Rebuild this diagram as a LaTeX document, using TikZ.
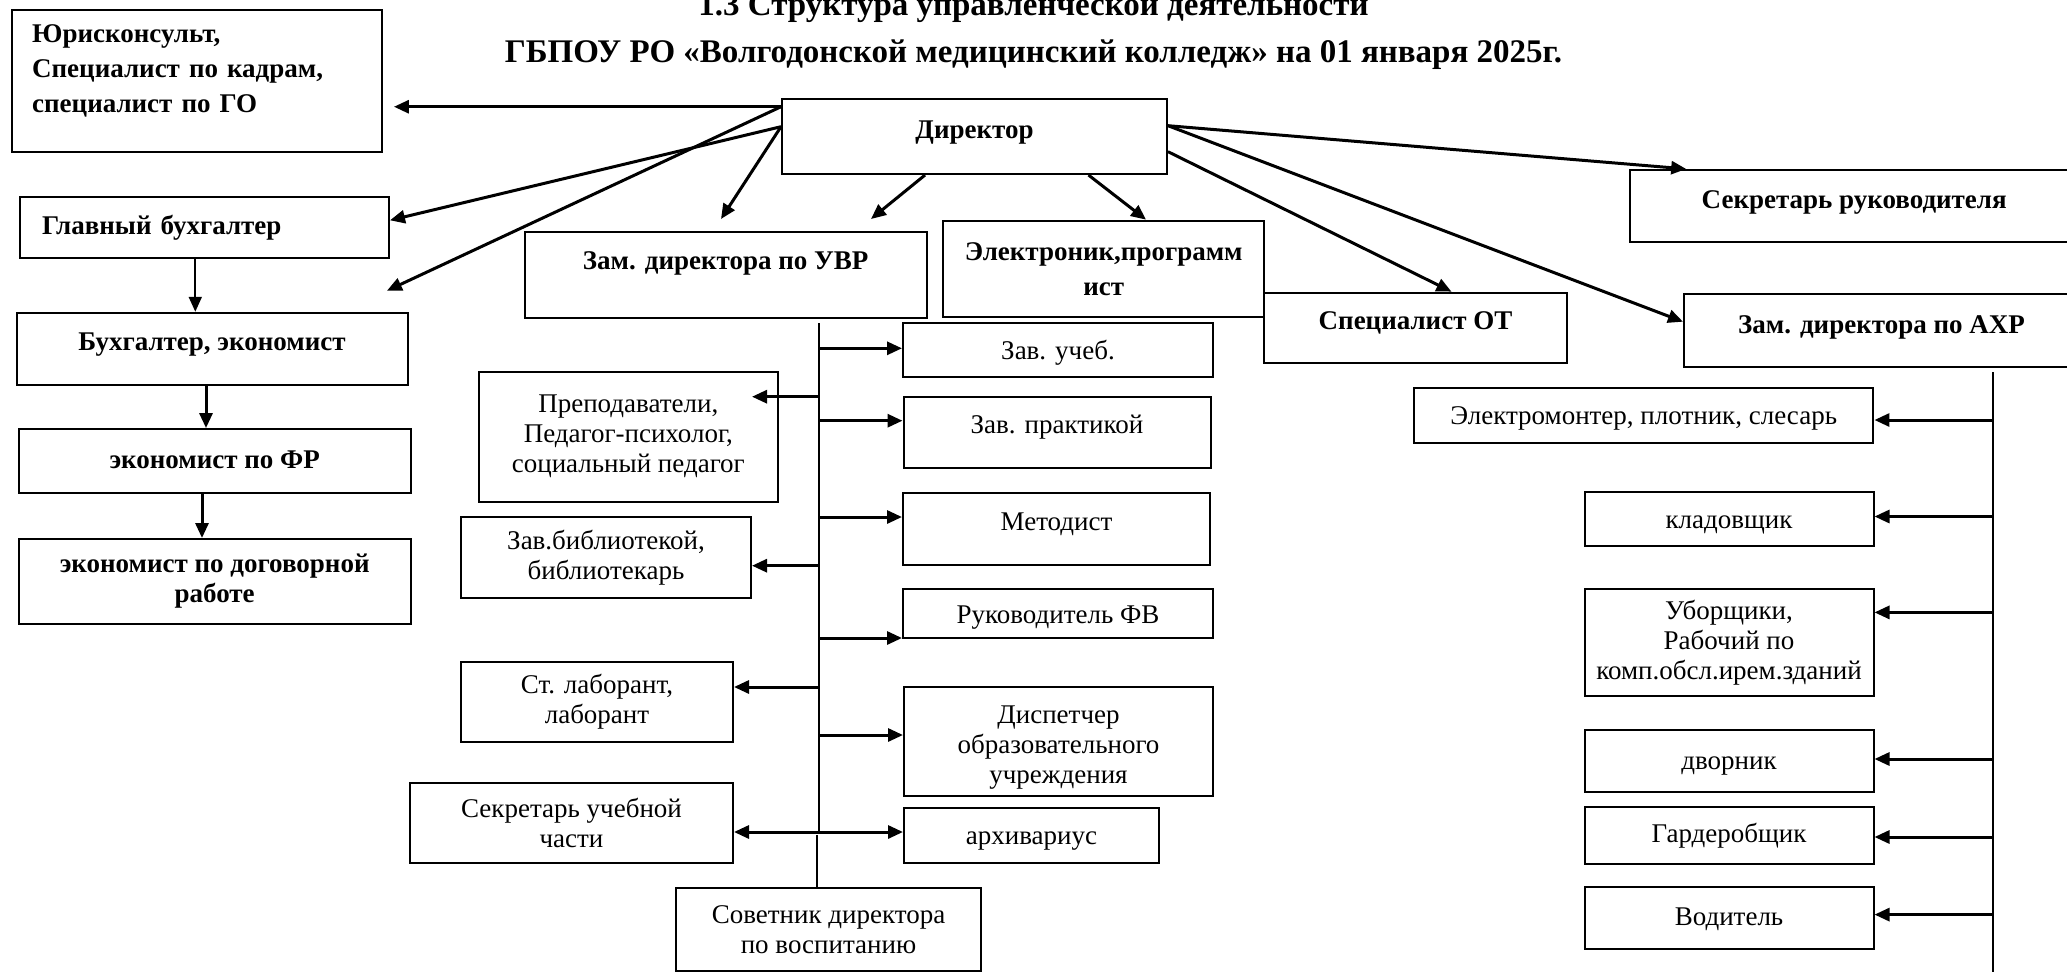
\documentclass[tikz,border=0pt]{standalone}
\usepackage{fontspec}
\setmainfont{Liberation Serif}
\usetikzlibrary{arrows.meta}
\tikzset{box/.style 2 args = {draw, line width = 2pt, inner sep = 0, align = center, minimum width = #1, minimum height = #2, font = \fontsize{27}{30}\selectfont}}
\tikzset{bbox/.style 2 args = {box = {#1}{#2}, font = \bfseries\fontsize{27}{30}\selectfont}}
\tikzset{lift/.style = {text height = 19pt, text depth = #1}}
\tikzset{arr/.style = {line width = 3pt, -{Triangle[length = 15pt, width = 13pt]}}}
\tikzset{bus/.style = {line width = 2pt}}

\begin{document}
\begin{tikzpicture}[x = 1pt, y = -1pt]
      \path[fill = white, use as bounding box] (0, 0) rectangle (2067, 972);

      \node [anchor = base, font = \bfseries\fontsize{33}{38}\selectfont] (title1) at (1033.5, 15) {1.3 Структура управленческой деятельности};
      \node [anchor = base, font = \bfseries\fontsize{33}{38}\selectfont] (title2) at (1033.5, 62) {ГБПОУ РО «Волгодонской медицинский колледж» на 01 января 2025г.};

      \node [bbox = {369.5pt}{142.5pt}, text width = 330pt, align = left, text depth = 96pt, font = \bfseries\fontsize{27}{35}\selectfont] (jur) at (197.2, 81.2) {Юрисконсульт,\\ Специалист по кадрам,\\ специалист по ГО};
      \node [bbox = {385pt}{74.7pt}, lift = 16pt] (dir) at (974.5, 136.7) {Директор};
      \node [bbox = {369.4pt}{61.3pt}, text width = 324.6pt, align = left] (glbuh) at (204.3, 227.3) {Главный бухгалтер};
      \node [bbox = {391pt}{72.3pt}, lift = 16pt] (buh) at (212, 348.9) {Бухгалтер, экономист};
      \node [bbox = {392pt}{63.7pt}, lift = 3pt] (ekfr) at (214.7, 460.9) {экономист по ФР};
      \node [bbox = {392pt}{85pt}] (ekdog) at (214.7, 581.5) {экономист по договорной\\ работе};
      \node [bbox = {402pt}{85.8pt}, lift = 30pt] (uvr) at (725.7, 274.6) {Зам. директора по УВР};
      \node [bbox = {320.5pt}{96.3pt}] (elec) at (1103.7, 268.8) {Электроник,программ\\[5pt] ист};
      \node [bbox = {303pt}{70.3pt}, lift = 15pt] (ot) at (1415.5, 327.8) {Специалист ОТ};
      \node [bbox = {449pt}{71.7pt}, lift = 13pt] (sekr) at (1854.2, 205.8) {Секретарь руководителя};
      \node [bbox = {395pt}{72.7pt}, lift = 13pt] (axr) at (1881.5, 330.3) {Зам. директора по АХР};

      \node [box = {310pt}{53.7pt}, lift = 0pt] (zavuch) at (1058, 349.8) {Зав. учеб.};
      \node [box = {307pt}{71.6pt}, lift = 18pt] (zavpr) at (1057, 432.5) {Зав. практикой};
      \node [box = {307pt}{72pt}, lift = 16pt] (metod) at (1056.5, 529) {Методист};
      \node [box = {310pt}{49pt}, lift = 0pt] (fv) at (1058, 613.5) {Руководитель ФВ};
      \node [box = {309pt}{109pt}, text width = 300pt, text depth = 54pt] (disp) at (1058.5, 741.5) {Диспетчер\\ образовательного\\ учреждения};
      \node [box = {255pt}{55pt}, lift = 0pt] (arh) at (1031.5, 835.2) {архивариус};
      \node [box = {299.4pt}{130pt}] (prep) at (628.3, 436.7) {Преподаватели,\\ Педагог-психолог,\\ социальный педагог};
      \node [box = {290pt}{81pt}] (bibl) at (606, 557.5) {Зав.библиотекой,\\ библиотекарь};
      \node [box = {272pt}{80pt}] (lab) at (597, 702) {Ст. лаборант,\\ лаборант};
      \node [box = {323pt}{80pt}] (sekruch) at (571.5, 823) {Секретарь учебной\\ части};
      \node [box = {305pt}{82.7pt}] (sovet) at (828.5, 929.7) {Советник директора\\ по воспитанию};

      \node [box = {459.5pt}{55.5pt}, lift = 2pt] (elm) at (1643.7, 415.7) {Электромонтер, плотник, слесарь};
      \node [box = {289pt}{107pt}] (ubor) at (1729, 642.5) {Уборщики,\\ Рабочий по\\ комп.обсл.ирем.зданий};
      \foreach \n/\y/\h/\d/\t in {klad/518.8/53.6/0/кладовщик, dvor/761/62/2/дворник, gard/835.3/57.4/4/Гардеробщик, vod/918.2/62.5/4/Водитель} {
        \node [box = {289pt}{\h pt}, lift = \d pt] (\n) at (1729, \y) {\t};
      }

      \coordinate (dl1) at ([yshift = -8.4pt]dir.north west);
      \coordinate (dl2) at ([yshift = 10pt]dir.west);
      \coordinate (dr1) at ([yshift = 11pt]dir.east);
      \coordinate (dr2) at ([yshift = -15pt]dir.east);
      \coordinate (db1) at ([xshift = -49.5pt]dir.south);
      \coordinate (db2) at ([xshift = 114pt]dir.south);

      \draw [arr, shorten > = 11pt] (dl1) -- (dl1 -| jur.east);
      \draw [arr] (dl2) -- ([yshift = 7pt]glbuh.east);
      \draw [arr] (dl1) -- ([xshift = -21.6pt, yshift = 21pt]buh.north east);
      \draw [arr] (dl2) -- ([xshift = -4.7pt, yshift = 11.7pt]uvr.north);
      \draw [arr] (db1) -- ([xshift = -56.7pt, yshift = 11.7pt]uvr.north east);
      \draw [arr] (db2) -- ([xshift = 42.3pt]elec.north);
      \draw [arr] (dr1) -- ([xshift = 57.5pt]sekr.north west);
      \draw [arr] (dr2) -- ([xshift = 188.5pt]ot.north west);
      \draw [arr] (dr1) -- ([yshift = 8.6pt]axr.west);

      \coordinate (gb) at ([xshift = -9pt]glbuh.south);
      \coordinate (bk) at ([xshift = -6pt]buh.south);
      \coordinate (ef) at ([xshift = -12.7pt]ekfr.south);
      \draw [arr, line width = 2pt] (gb) -- (gb |- buh.north);
      \draw [arr] (bk) -- (bk |- ekfr.north);
      \draw [arr] (ef) -- (ef |- ekdog.north);

      \coordinate (utop) at (819, 323);
      \coordinate (ubot) at (819, 832);
      \draw [bus] (utop) -- (ubot);
      \foreach \n/\y in {zavuch/348.3, zavpr/420.7, metod/517, fv/638, disp/735} {
        \draw [arr] (utop |- 0, \y) -- (\n.west |- 0, \y);
      }
      \foreach \n/\y in {bibl/565.7, lab/687} {
        \draw [arr] (utop |- 0, \y) -- (\n.east |- 0, \y);
      }
      \draw [arr, shorten > = -27pt] (utop |- 0, 396.7) -- (prep.east |- 0, 396.7);
      \draw [arr, {Triangle[length = 15pt, width = 13pt]}-{Triangle[length = 15pt, width = 13pt]}] (sekruch.east |- 0, 832) -- (arh.west |- 0, 832);
      \coordinate (stop) at (817, 835);
      \draw [bus] (stop) -- (stop |- sovet.north);

      \coordinate (atop) at (1993, 372);
      \coordinate (abot) at (1993, 972);
      \draw [bus] (atop) -- (abot);
      \foreach \n/\y in {elm/420, klad/516.5, ubor/612.4, dvor/759, gard/837, vod/914.6} {
        \draw [arr] (atop |- 0, \y) -- (\n.east |- 0, \y);
      }
    \end{tikzpicture}
\end{document}
